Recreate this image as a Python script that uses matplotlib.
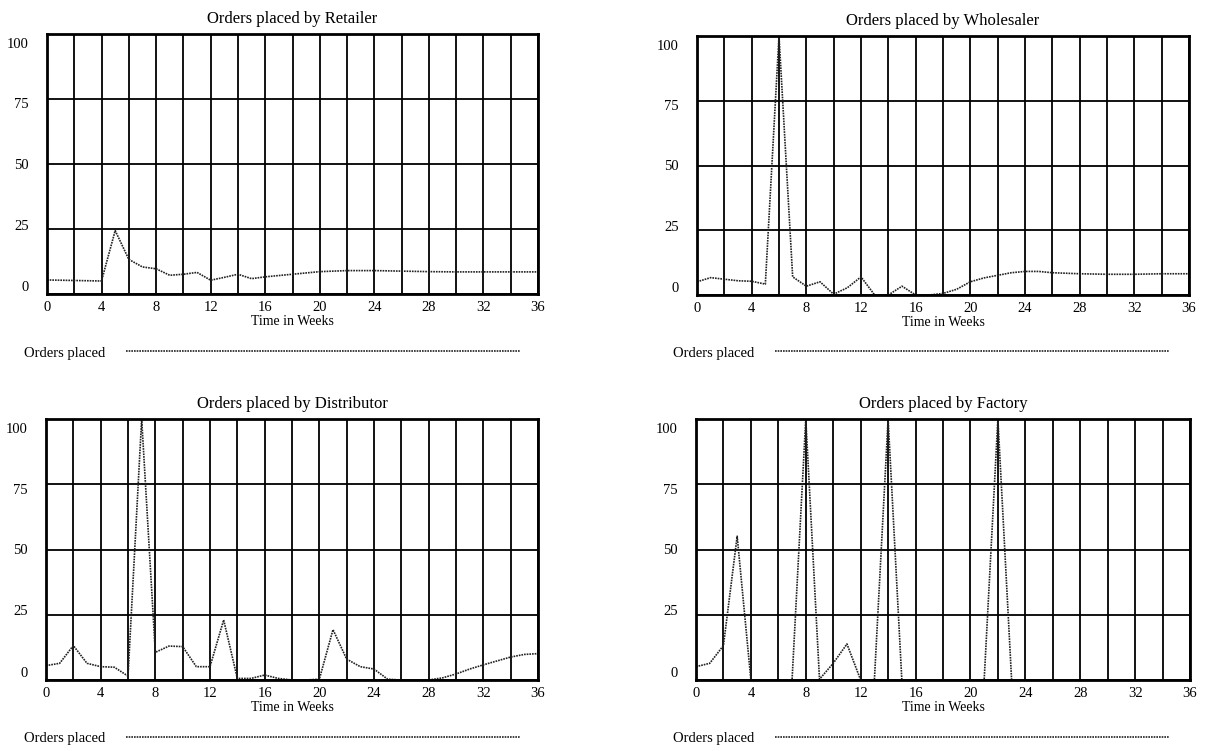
import matplotlib
matplotlib.use("Agg")
import matplotlib.pyplot as plt
import matplotlib.transforms as mtransforms
from matplotlib.ticker import MultipleLocator, FixedLocator

plt.rcParams['font.family'] = ['Liberation Serif', 'DejaVu Serif']

# ---- data: orders placed per week at each stage of the supply chain ----
weeks_retailer = [0, 2, 4, 4.1, 5, 6, 7, 8, 9, 10, 11, 12, 13, 14, 15, 16,
                  18, 20, 22, 24, 26, 28, 30, 32, 34, 36]
orders_retailer = [5.4, 5.2, 5.0, 7.0, 24.4, 13.3, 10.4, 9.7, 7.2, 7.6, 8.3,
                   5.3, 6.4, 7.6, 5.9, 6.6, 7.6, 8.6, 9.0, 9.0, 8.8, 8.6,
                   8.5, 8.5, 8.5, 8.5]

weeks_wholesaler = list(range(0, 27)) + [28, 30, 32, 34, 36]
orders_wholesaler = [5.1, 6.7, 6.1, 5.5, 5.3, 4.2, 100, 7.0, 3.4, 5.1, 0.3,
                     2.8, 7.0, 0, 0, 3.4, 0, 0, 0.6, 2.2, 5.1, 6.6, 7.6, 8.6,
                     9.1, 9.1, 8.6, 8.2, 8.0, 8.0, 8.2, 8.2]

weeks_distributor = list(range(0, 37))
orders_distributor = [5.5, 6.4, 13.2, 6.4, 5.1, 4.9, 1.5, 100, 10.6, 13.0,
                      12.8, 5.1, 5.1, 23.0, 0.6, 0.6, 1.9, 0.6, 0, 0, 0.3,
                      19.3, 8.0, 5.1, 4.2, 0.3, 0, 0, 0, 0.8, 2.3, 4.2, 5.8,
                      7.3, 8.8, 9.8, 10.1]

weeks_factory = list(range(0, 37))
orders_factory = [5.1, 6.4, 13.2, 55.1, 0, 0, 0, 0, 100, 0.3, 6.4, 13.8, 0,
                  0, 100, 0, 0, 0, 0, 0, 0, 0, 100, 0, 0, 0, 0, 0, 0, 0, 0,
                  0, 0, 0, 0, 0, 0]

titles = ["Orders placed by Retailer", "Orders placed by Wholesaler",
          "Orders placed by Distributor", "Orders placed by Factory"]
y_ticks = [0, 25, 50, 75, 100]
x_label = "Time in Weeks"
series_label = "Orders placed"

# ---- layout (pixel boxes on a 1207 x 751 canvas) ----
W, H = 1207, 751
fig = plt.figure(figsize=(W / 100, H / 100), dpi=100)


def box(left, top, right, bottom):
    return [left / W, 1 - bottom / H, (right - left) / W, (bottom - top) / H]


panels = [
    (box(47, 34, 538, 294), weeks_retailer, orders_retailer, (24, 353)),
    (box(697, 36, 1189, 295), weeks_wholesaler, orders_wholesaler, (673, 353)),
    (box(46, 419, 538, 680), weeks_distributor, orders_distributor, (24, 738)),
    (box(696, 419, 1190, 680), weeks_factory, orders_factory, (673, 738)),
]

# vertical nudges (points) applied to the y tick labels, in tick order
label_shift = [6.0, 3.2, 0.0, -3.2, -6.5]

for (rect, weeks, orders, leg_xy), title in zip(panels, titles):
    ax = fig.add_axes(rect)
    line, = ax.plot(weeks, orders, color="#222222", lw=1.2,
                    linestyle=(0, (1.0, 0.6)), label=series_label)
    ax.set_xlim(0, 36)
    ax.set_ylim(0, 100)
    ax.xaxis.set_major_locator(MultipleLocator(4))
    ax.xaxis.set_minor_locator(MultipleLocator(2))
    ax.yaxis.set_major_locator(FixedLocator(y_ticks))
    ax.grid(which="both", axis="x", color="black", lw=1.3)
    ax.grid(which="major", axis="y", color="black", lw=1.3)
    ax.set_axisbelow(True)
    ax.tick_params(which="both", length=0, labelsize=10.5)
    ax.tick_params(axis="x", pad=5)
    ax.tick_params(axis="y", pad=13)
    for sp in ax.spines.values():
        sp.set_linewidth(2.0)
    ax.set_title(title, fontsize=12, pad=8)
    ax.set_xlabel(x_label, fontsize=10, labelpad=1)

    ticks = ax.yaxis.get_major_ticks(len(y_ticks))
    for tick, dy in zip(ticks, label_shift):
        off = mtransforms.ScaledTranslation(0, dy / 72, fig.dpi_scale_trans)
        tick.label1.set_transform(tick.label1.get_transform() + off)

    ax.legend(handles=[line], loc="center left",
              bbox_to_anchor=(leg_xy[0] / W, 1 - leg_xy[1] / H),
              bbox_transform=fig.transFigure, frameon=False,
              markerfirst=False, handlelength=27, handletextpad=1.45,
              borderpad=0, borderaxespad=0, fontsize=10.5)

fig.savefig("out.png", dpi=100)
